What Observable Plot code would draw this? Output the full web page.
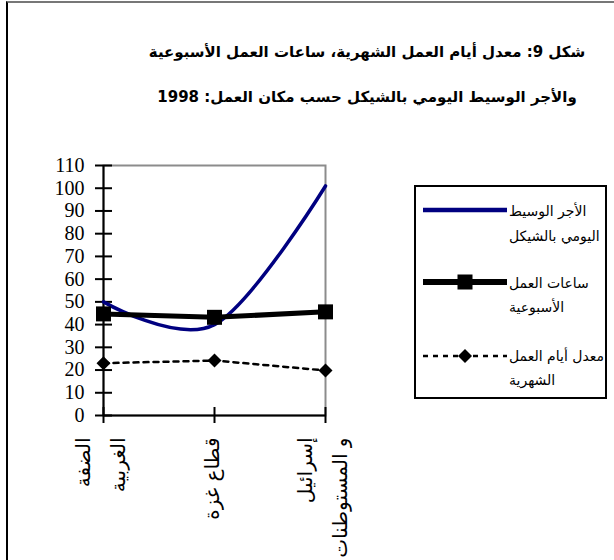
<!DOCTYPE html>
<html>
<head>
<meta charset="utf-8">
<script src="https://cdn.jsdelivr.net/npm/d3@7"></script>
<script src="https://cdn.jsdelivr.net/npm/@observablehq/plot@0.6"></script>
<style>
  html, body { margin: 0; padding: 0; background: #fff; overflow: hidden; }
  #wrap { position: relative; width: 614px; height: 560px; overflow: hidden; }
  #wrap svg { position: absolute; left: 0; top: 0; }
  .abs { position: absolute; white-space: nowrap; }
  .title { font-family: "DejaVu Sans", sans-serif; font-weight: bold; font-size: 15px; text-align: center; left: 122px; width: 490px; line-height: 20px; }
  .leg { font-family: "DejaVu Sans", sans-serif; font-size: 14px; line-height: 18px; color: #000; }
</style>
</head>
<body>
<div id="wrap"></div>
<script>
// ---- data ----
const categories = ["الضفة الغربية", "قطاع غزة", "إسرائيل و المستوطنات"];
const categoryLabels = ["الضفة\nالغربية", "قطاع غزة", "إسرائيل\nو المستوطنات"];
const wage = [50, 40, 101];      // الأجر الوسيط اليومي بالشيكل
const hours = [44.7, 43.2, 45.6]; // ساعات العمل الأسبوعية
const days = [23, 24.2, 19.8];    // معدل أيام العمل الشهرية
const yTicks = [0, 10, 20, 30, 40, 50, 60, 70, 80, 90, 100, 110];
const titleLines = ["شكل 9: معدل أيام العمل الشهرية، ساعات العمل الأسبوعية", "والأجر الوسيط اليومي بالشيكل حسب مكان العمل: 1998"];
const legendLines = [["الأجر الوسيط", "اليومي بالشيكل"], ["ساعات العمل", "الأسبوعية"], ["معدل أيام العمل", "الشهرية"]];

const diamond = {
  draw(context, size) {
    const r = Math.sqrt(size / 2);
    context.moveTo(0, -r);
    context.lineTo(r, 0);
    context.lineTo(0, r);
    context.lineTo(-r, 0);
    context.closePath();
  }
};

const wrap = document.getElementById("wrap");

// outer frame
const frame = document.createElement("div");
frame.className = "abs";
frame.style.cssText = "left:6px;top:1px;width:700px;height:700px;border-left:2px solid #000;border-top:2px solid #777;";
wrap.appendChild(frame);

const chart = Plot.plot({
  width: 614,
  height: 560,
  marginLeft: 103,
  marginRight: 289,
  marginTop: 165,
  marginBottom: 145,
  style: { background: "transparent", color: "black", fontFamily: "'Liberation Serif', serif" },
  x: { type: "point", domain: categories, padding: 0 },
  y: { domain: [0, 110] },
  marks: [
    Plot.frame({ stroke: "#8c8c8c", strokeWidth: 2 }),
    Plot.ruleY([0], { stroke: "black", strokeWidth: 2 }),
    Plot.ruleX([categories[0]], { stroke: "black", strokeWidth: 2 }),
    Plot.axisY({ ticks: yTicks, tickSize: 17, dx: 9, text: null, label: null, strokeWidth: 2 }),
    Plot.axisY({ ticks: yTicks, tickSize: 0, tickPadding: 19, fontSize: 20, label: null, tickFormat: d => String(d) }),
    Plot.axisX({ tickSize: 16, dy: -8, text: null, label: null, strokeWidth: 2 }),
    Plot.text(categories, {
      x: d => d, text: (d, i) => categoryLabels[i], frameAnchor: "bottom", dy: 22, dx: -7,
      rotate: -90, textAnchor: "end", lineAnchor: "middle", fontSize: 20, lineHeight: 1.75,
      fontFamily: "'DejaVu Sans', sans-serif"
    }),
    Plot.line(categories, { x: d => d, y: (d, i) => wage[i], stroke: "#000080", strokeWidth: 3.5, curve: "cardinal" }),
    Plot.line(categories, { x: d => d, y: (d, i) => hours[i], stroke: "black", strokeWidth: 5 }),
    Plot.dot(categories, { x: d => d, y: (d, i) => hours[i], symbol: "square", r: 8.46, fill: "black" }),
    Plot.line(categories, { x: d => d, y: (d, i) => days[i], stroke: "black", strokeWidth: 2.5, strokeDasharray: "5,5" }),
    Plot.dot(categories, { x: d => d, y: (d, i) => days[i], symbol: diamond, r: 5.6, fill: "black" })
  ]
});
wrap.appendChild(chart);

// title
const titleY = [52, 97];
titleLines.forEach((t, i) => {
  const d = document.createElement("div");
  d.className = "abs title";
  d.dir = "rtl";
  d.style.top = (titleY[i] - 10) + "px";
  d.textContent = t;
  wrap.appendChild(d);
});

// legend
const box = document.createElement("div");
box.className = "abs";
box.style.cssText = "left:414px;top:185px;width:189px;height:210px;border:2px solid #000;background:#fff;";
wrap.appendChild(box);

const ns = "http://www.w3.org/2000/svg";
const lsvg = document.createElementNS(ns, "svg");
lsvg.setAttribute("width", 614);
lsvg.setAttribute("height", 560);
lsvg.style.cssText = "position:absolute;left:0;top:0;";
const sw = [
  { y: 210, stroke: "#000080", w: 4.5, dash: null, sym: null },
  { y: 282, stroke: "#000", w: 6, dash: null, sym: "square" },
  { y: 356, stroke: "#000", w: 2.5, dash: "5,5", sym: "diamond" }
];
sw.forEach(s => {
  const l = document.createElementNS(ns, "line");
  l.setAttribute("x1", 423); l.setAttribute("x2", 507);
  l.setAttribute("y1", s.y); l.setAttribute("y2", s.y);
  l.setAttribute("stroke", s.stroke); l.setAttribute("stroke-width", s.w);
  if (s.dash) l.setAttribute("stroke-dasharray", s.dash);
  lsvg.appendChild(l);
  if (s.sym === "square") {
    const r = document.createElementNS(ns, "rect");
    r.setAttribute("x", 457.5); r.setAttribute("y", s.y - 7.5);
    r.setAttribute("width", 15); r.setAttribute("height", 15);
    lsvg.appendChild(r);
  } else if (s.sym === "diamond") {
    const p = document.createElementNS(ns, "path");
    p.setAttribute("d", `M465,${s.y - 7}L472,${s.y}L465,${s.y + 7}L458,${s.y}Z`);
    lsvg.appendChild(p);
  }
});
wrap.appendChild(lsvg);

const legY = [[211, 236], [283, 307], [356, 380]];
legendLines.forEach((pair, i) => {
  pair.forEach((t, j) => {
    const d = document.createElement("div");
    d.className = "abs leg";
    d.dir = "rtl";
    d.style.left = "509px";
    d.style.top = (legY[i][j] - 9) + "px";
    d.textContent = t;
    wrap.appendChild(d);
  });
});
</script>
</body>
</html>
